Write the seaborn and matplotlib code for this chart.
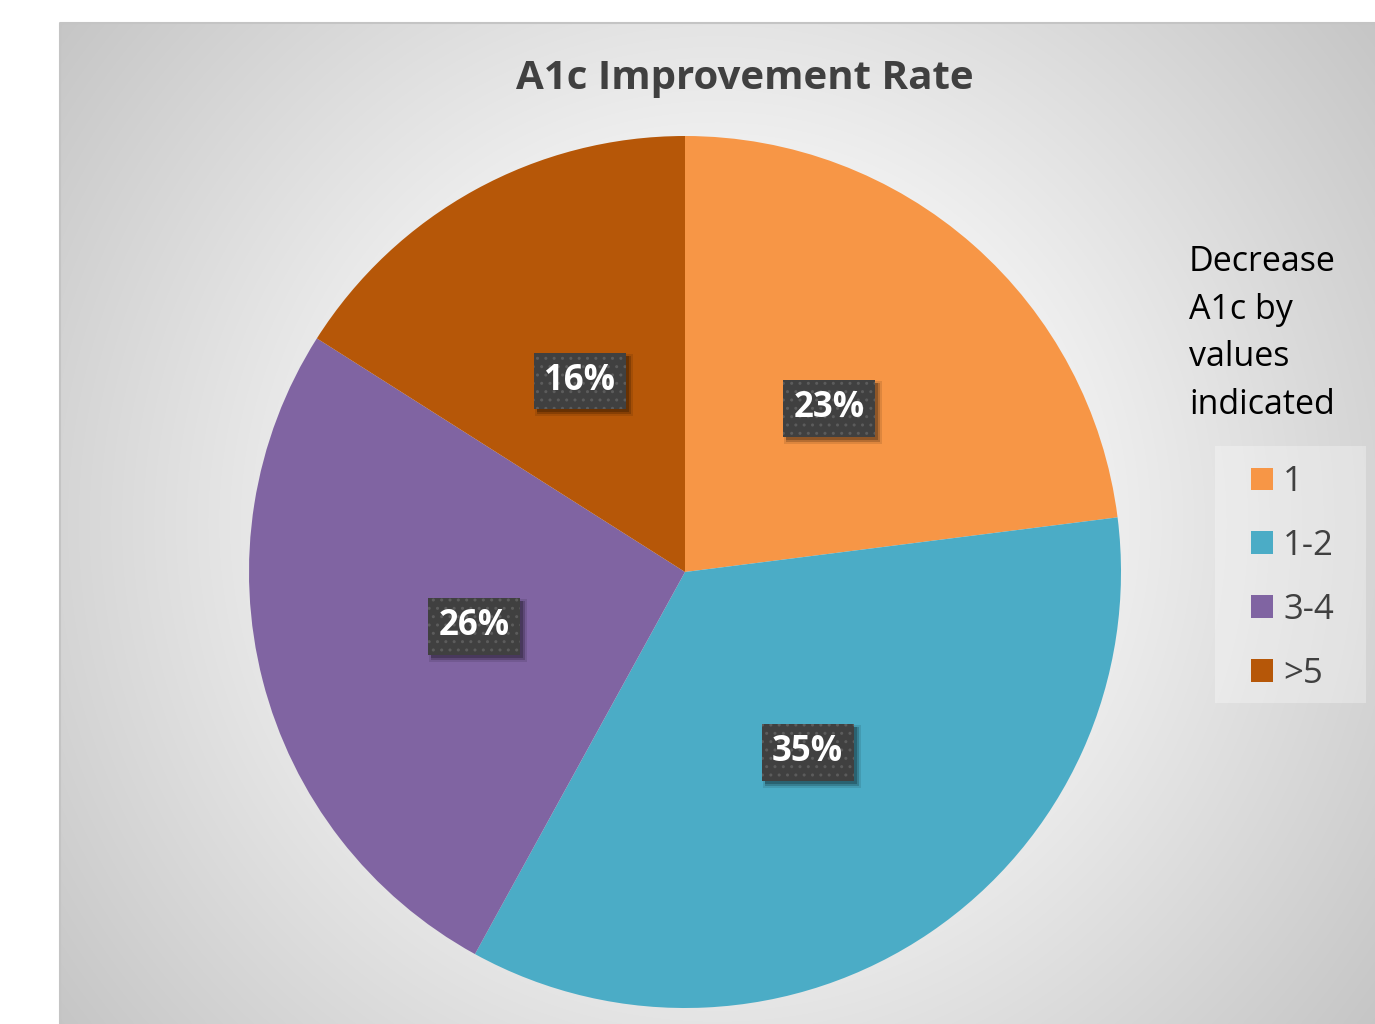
import numpy as np
import matplotlib
matplotlib.use("Agg")
import matplotlib.pyplot as plt
from matplotlib.patches import Rectangle
import seaborn as sns

# ---- data ----
categories = ["1", "1-2", "3-4", ">5"]
shares = [23, 35, 26, 16]
slice_colors = ["#F79646", "#4BACC6", "#8064A2", "#B65708"]
chart_title = "A1c Improvement Rate"
legend_title = "Decrease\nA1c by\nvalues\nindicated"

sns.set_theme(style="white")
plt.rcParams["font.family"] = ["Open Sans", "DejaVu Sans"]
palette = sns.color_palette(slice_colors)

W, H = 1375, 1024
fig = plt.figure(figsize=(W / 100, H / 100), dpi=100)
fig.patch.set_facecolor("white")

# ---- background panel with a soft radial gradient ----
bg = fig.add_axes([0, 0, 1, 1])
bg.set_xlim(0, W)
bg.set_ylim(H, 0)
bg.axis("off")
px0, py0 = 60, 23
xs = np.arange(px0, W) + 0.5
ys = np.arange(py0, H) + 0.5
X, Y = np.meshgrid(xs, ys)
gx, gy = (px0 + W) / 2, (py0 + H) / 2
d = np.hypot(X - gx, Y - gy) / np.hypot(W - gx, H - gy)
shade = np.clip(1.075 - 0.3 * d, 0, 0.955)
rgb = np.dstack([shade, shade, shade])
bg.imshow(rgb, extent=(px0, W, H, py0), interpolation="bilinear", aspect="auto")
bg.plot([px0, px0, W], [H, py0, py0], color="#c4c4c4", lw=1.5)

# legend backdrop
bg.add_patch(Rectangle((1215, 446), 151, 257, facecolor="white", alpha=0.3,
                       edgecolor="none"))

# ---- pie ----
R = 436
pcx, pcy = 685, 572
ax = fig.add_axes([(pcx - R) / W, (H - pcy - R) / H, 2 * R / W, 2 * R / H])
wedges, _, autotexts = ax.pie(
    shares, colors=palette, startangle=90, counterclock=False,
    autopct="%.0f%%", pctdistance=0.5,
    wedgeprops=dict(linewidth=0),
    textprops=dict(color="white", fontsize=25, fontweight="bold", zorder=5),
)
ax.set_xlim(-1, 1)
ax.set_ylim(-1, 1)
ax.set_aspect("equal")
ax.axis("off")

for t in autotexts:
    t.set_bbox(dict(boxstyle="square,pad=0.3", facecolor="#404040",
                    edgecolor="#5c5c5c", linewidth=0, hatch=".."))

# ---- titles ----
fig.text(745 / W, 1 - 79 / H, chart_title, ha="center", va="center",
         fontsize=29, fontweight="bold", color="#404040")
fig.text(1189 / W, 1 - 245 / H, legend_title, ha="left", va="top",
         fontsize=24.5, color="black", linespacing=1.52)

# ---- legend ----
leg = fig.legend(
    wedges, categories, loc="upper left",
    bbox_to_anchor=(1251 / W, 1 - 465 / H), borderaxespad=0, borderpad=0,
    frameon=False, fontsize=25, handlelength=0.62, handleheight=0.62,
    handletextpad=0.3, labelspacing=0.86,
)
for txt in leg.get_texts():
    txt.set_color("#404040")

# ---- soft drop shadows under the data label boxes ----
fig.canvas.draw()
renderer = fig.canvas.get_renderer()
to_data = ax.transData.inverted()
for t in autotexts:
    ext = t.get_bbox_patch().get_window_extent(renderer)
    for grow, shift, alpha in [(3, 4, 0.10), (1, 4, 0.18), (0, 3, 0.22)]:
        (x0, y0), (x1, y1) = to_data.transform(
            [(ext.x0 + shift - grow, ext.y0 - shift - grow),
             (ext.x1 + shift + grow, ext.y1 - shift + grow)])
        ax.add_patch(Rectangle((x0, y0), x1 - x0, y1 - y0, facecolor="black",
                               alpha=alpha, edgecolor="none", zorder=4))

fig.savefig("out.png", dpi=100)
